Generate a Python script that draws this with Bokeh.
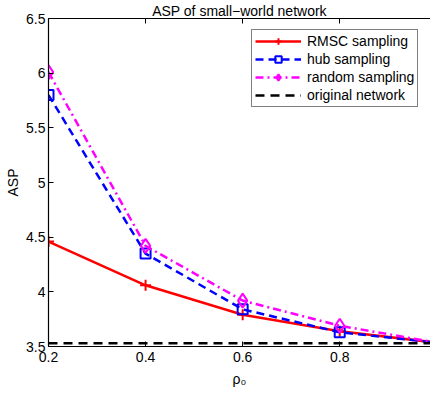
from bokeh.plotting import figure
from bokeh.models import Range1d, LinearAxis, FixedTicker, Legend, LegendItem
from bokeh.embed import file_html
from bokeh.resources import INLINE

rho = [0.2, 0.4, 0.6, 0.8, 1.0]
rmsc = [4.46, 4.06, 3.79, 3.64, 3.535]
hub = [5.80, 4.35, 3.84, 3.63, 3.535]
rand = [6.01, 4.42, 3.92, 3.69, 3.535]
orig_x = [0.2, 1.0]
orig_y = [3.53, 3.53]
x_ticks = [0.2, 0.4, 0.6, 0.8, 1.0]
y_ticks = [3.5, 4, 4.5, 5, 5.5, 6, 6.5]
y_tick_labels = {3.5: "3.5", 4: "4", 4.5: "4.5", 5: "5", 5.5: "5.5", 6: "6", 6.5: "6.5"}

FONT = "Liberation Sans"

p = figure(width=430, height=393, output_backend="svg", toolbar_location=None,
           x_range=Range1d(0.2, 0.987), y_range=Range1d(3.5, 6.5),
           x_axis_location=None, y_axis_location=None,
           min_border_left=48, min_border_right=0, min_border_top=18, min_border_bottom=47,
           title="ASP of small\u2212world network")
p.outline_line_color = None
p.grid.visible = False
p.background_fill_color = "white"
p.border_fill_color = "white"
p.title.text_font = FONT
p.title.text_font_size = "14px"
p.title.text_font_style = "normal"
p.title.align = "center"
p.title.text_color = "black"
p.title.standoff = 0
p.title.offset = 0

def style_axis(ax):
    ax.axis_line_color = "black"
    ax.axis_line_width = 1.2
    ax.major_tick_in = 5
    ax.major_tick_out = 0
    ax.minor_tick_in = 0
    ax.minor_tick_out = 0
    ax.major_tick_line_color = "black"
    ax.major_tick_line_width = 1
    ax.major_label_text_font = FONT
    ax.major_label_text_font_size = "14px"
    ax.major_label_text_color = "black"
    ax.axis_label_text_font = FONT
    ax.axis_label_text_font_size = "14px"
    ax.axis_label_text_font_style = "normal"
    ax.axis_label_text_color = "black"

xb = LinearAxis(ticker=FixedTicker(ticks=x_ticks), axis_label="\u03c1\u2080")
style_axis(xb)
xb.major_label_standoff = 5
xb.axis_label_standoff = 6
p.add_layout(xb, "below")

# top frame line with inward ticks (no labels)
xt = LinearAxis(ticker=FixedTicker(ticks=[], minor_ticks=x_ticks))
style_axis(xt)
xt.minor_tick_in = 5
xt.minor_tick_line_color = "black"
xt.major_label_standoff = 0
p.add_layout(xt, "above")

yl = LinearAxis(ticker=FixedTicker(ticks=y_ticks), axis_label="ASP",
                major_label_overrides=y_tick_labels)
style_axis(yl)
yl.major_label_standoff = 3
yl.axis_label_standoff = 2
p.add_layout(yl, "left")

lw = 2.5
r1l = p.line(rho, rmsc, line_color="red", line_width=lw)
r1m = p.scatter(rho, rmsc, marker="cross", size=11, line_color="red", line_width=2)
r2l = p.line(rho, hub, line_color="blue", line_width=lw, line_dash="8 5")
r2m = p.scatter(rho, hub, marker="square", size=10, line_color="blue", fill_color=None, line_width=2)
r3l = p.line(rho, rand, line_color="magenta", line_width=lw, line_dash="8 4 2 4")
r3m = p.scatter(rho, rand, marker="diamond", size=14, line_color="magenta", fill_color=None, line_width=2)
r4l = p.line(orig_x, orig_y, line_color="black", line_width=lw, line_dash="9 6")

legend = Legend(items=[
    LegendItem(label="RMSC sampling", renderers=[r1l, r1m]),
    LegendItem(label="hub sampling", renderers=[r2l, r2m]),
    LegendItem(label="random sampling", renderers=[r3l, r3m]),
    LegendItem(label="original network", renderers=[r4l]),
], location=(203, 239))
legend.border_line_color = "black"
legend.border_line_width = 1
legend.background_fill_color = "white"
legend.background_fill_alpha = 1
legend.label_text_font = FONT
legend.label_text_font_size = "14px"
legend.label_text_color = "black"
legend.padding = 3
legend.spacing = 2
legend.glyph_height = 16
legend.label_height = 16
legend.glyph_width = 46
legend.label_standoff = 6
legend.margin = 0
p.add_layout(legend)

open("out.html", "w").write(file_html(p, INLINE))
